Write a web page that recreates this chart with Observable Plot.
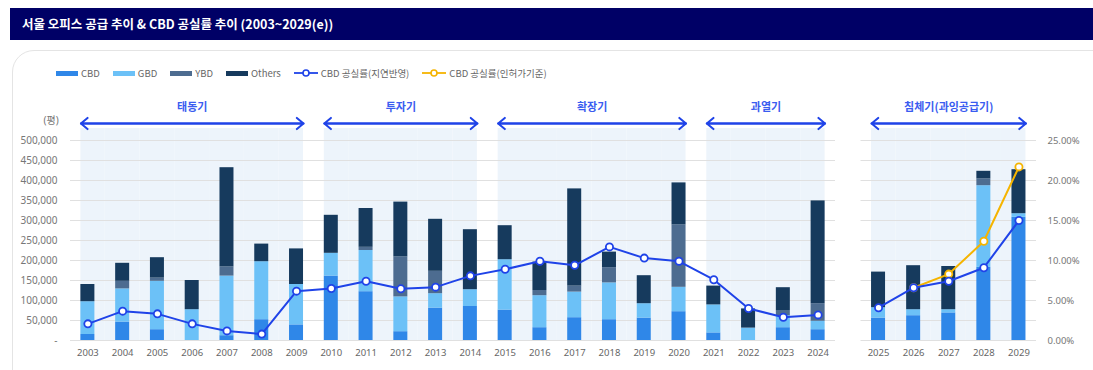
<!DOCTYPE html>
<html><head><meta charset="utf-8">
<script src="https://cdn.jsdelivr.net/npm/d3@7"></script>
<script src="https://cdn.jsdelivr.net/npm/@observablehq/plot@0.6"></script>
<style>
body{margin:0;width:1093px;height:370px;position:relative;background:#fff;font-family:"Noto Sans","Noto Sans CJK KR",sans-serif;overflow:hidden}
#title{position:absolute;left:10px;top:8px;width:1083px;height:32px;background:#000066;color:#fff;font-size:12.5px;font-weight:bold;line-height:32px;padding-left:12px;box-sizing:border-box;font-family:"Noto Sans CJK KR",sans-serif}
#card{position:absolute;left:12px;top:50px;width:1110px;height:350px;border:1px solid #e4e4e4;border-radius:22px}
#legend{position:absolute;left:56px;top:66px;height:14px;display:flex;align-items:center;gap:13px;font-size:9.5px;color:#666;font-family:"Noto Sans CJK KR",sans-serif}
#legend .it{display:flex;align-items:center;gap:3px}
#legend .sw{width:22px;height:5px;display:inline-block}
#left{position:absolute;left:0;top:95px}
#right{position:absolute;left:848px;top:95px}
</style></head>
<body>
<div id="title">서울 오피스 공급 추이 &amp; CBD 공실률 추이 (2003~2029(e))</div>
<div id="card"></div>
<div id="legend"></div>
<div id="left"></div>
<div id="right"></div>
<script>
const years = ["2003","2004","2005","2006","2007","2008","2009","2010","2011","2012","2013","2014","2015","2016","2017","2018","2019","2020","2021","2022","2023","2024","2025","2026","2027","2028","2029"];
const types = ["CBD","GBD","YBD","Others"];
const cbd    = [15000,46000,27000,0,12000,52000,39000,161000,122000,22000,81000,85000,76000,32000,57000,52000,56000,72000,19000,0,32000,27000,56000,62000,69000,183000,308000];
const gbd    = [82000,83000,121000,77000,149000,145000,101000,57000,103000,87000,36000,42000,126000,80000,64000,92000,36000,61000,70000,31000,30000,21000,26000,15000,8000,204000,9000];
const ybd    = [0,19000,8000,0,23000,0,0,0,8000,100000,56000,0,0,13000,15000,38000,0,156000,0,0,13000,44000,0,0,0,17000,0];
const others = [43000,45000,51000,73000,248000,44000,89000,95000,97000,137000,130000,150000,85000,71000,243000,39000,70000,105000,47000,48000,57000,257000,89000,110000,108000,19000,110000];
const vacancyDelayed = [2.08,3.67,3.33,2.08,1.2,0.8,6.17,6.5,7.4,6.46,6.67,8.08,8.9,9.9,9.4,11.7,10.3,9.9,7.6,4.0,2.9,3.2,4.1,6.6,7.4,9.1,15.0];
const vacancyPermit  = [null,null,null,null,null,null,null,null,null,null,null,null,null,null,null,null,null,null,null,null,null,null,null,6.6,8.3,12.4,21.7];
const phaseNames = ["태동기","투자기","확장기","과열기","침체기(과잉공급기)"];
const phaseFrom  = ["2003","2010","2015","2021","2025"];
const phaseTo    = ["2009","2014","2020","2024","2029"];
const leftTicks  = [0,50000,100000,150000,200000,250000,300000,350000,400000,450000,500000];
const rightTicks = [0,5,10,15,20,25];
const legendLabels = ["CBD","GBD","YBD","Others","CBD 공실률(지연반영)","CBD 공실률(인허가기준)"];

const colors = ["#2f87e8","#6cc1f7","#4d6c90","#163a5d"];
const blue = "#1f43e8", yellow = "#f5b400", phaseBlue = "#3a5cf0", bgFill = "#edf4fb";
const series = [cbd, gbd, ybd, others];
const PCT = 20000; // 25% <-> 500,000
const fmtLeft = d => d === 0 ? "-" : d3.format(",")(d);

// legend
const lg = document.getElementById("legend");
types.forEach((t,k) => {
  lg.insertAdjacentHTML("beforeend", `<span class="it"><span class="sw" style="background:${colors[k]}"></span>${legendLabels[k]}</span>`);
});
[[blue, legendLabels[4]], [yellow, legendLabels[5]]].forEach(([c, l]) => {
  lg.insertAdjacentHTML("beforeend", `<span class="it"><svg width="24" height="10"><line x1="0" x2="24" y1="5" y2="5" stroke="${c}" stroke-width="1.8"/><circle cx="12" cy="5" r="3" fill="#fff" stroke="${c}" stroke-width="1.6"/></svg>${l}</span>`);
});

function panel(sub, o) {
  const idx = years.map((y,i)=>i).filter(i => sub.includes(years[i]));
  const rows = [];
  idx.forEach(i => types.forEach((t,k) => rows.push({year: years[i], type: t, value: series[k][i]})));
  const vac = idx.map(i => ({year: years[i], v: vacancyDelayed[i]}));
  const vp = idx.filter(i => vacancyPermit[i] != null).map(i => ({year: years[i], v: vacancyPermit[i]}));
  const step = (o.width - o.marginLeft - o.marginRight) / sub.length;
  const INS = (step - 14) / 2;
  const ph = phaseNames.map((n,k) => ({name: n, from: phaseFrom[k], to: phaseTo[k]})).filter(p => sub.includes(p.from));
  const bg = [];
  ph.forEach(p => {
    const a = sub.indexOf(p.from), b = sub.indexOf(p.to);
    for (let j = a; j <= b; j++) bg.push({year: sub[j], pos: j === a ? "first" : j === b ? "last" : "mid"});
  });
  const bgMark = (pos, insL, insR) => Plot.barY(bg.filter(d => d.pos === pos), {x: "year", y1: 0, y2: 500000, fill: bgFill, insetLeft: insL, insetRight: insR, insetTop: -12});
  const labelMarks = ph.map(p => {
    const a = sub.indexOf(p.from), b = sub.indexOf(p.to), n = b - a + 1;
    const mid = sub[a + Math.floor((n - 1) / 2)];
    return Plot.text([p], {x: () => mid, y: () => 500000, text: "name", dx: ((n - 1) % 2) * step / 2, dy: -33, fill: phaseBlue, fontWeight: "bold", fontSize: 11, fontFamily: "'Noto Sans CJK KR',sans-serif"});
  });
  const marks = [
    bgMark("first", INS, 0), bgMark("mid", 0, 0), bgMark("last", 0, INS),
    Plot.ruleY(leftTicks, {stroke: "#e0e0e0"}),
    Plot.barY(rows, {x: "year", y: "value", fill: "type", order: types, insetLeft: INS, insetRight: INS}),
    Plot.line(vp, {x: "year", y: d => d.v * PCT, stroke: yellow, strokeWidth: 2}),
    Plot.dot(vp, {x: "year", y: d => d.v * PCT, r: 3.6, fill: "#fff", stroke: yellow, strokeWidth: 1.8}),
    Plot.line(vac, {x: "year", y: d => d.v * PCT, stroke: blue, strokeWidth: 2}),
    Plot.dot(vac, {x: "year", y: d => d.v * PCT, r: 3.6, fill: "#fff", stroke: blue, strokeWidth: 1.8}),
    Plot.arrow(ph, {x1: "from", x2: "to", y: () => 500000, dy: -17, stroke: blue, strokeWidth: 2, headLength: 6.5, headAngle: 80, insetStart: -(step/2 - INS), insetEnd: -(step/2 - INS)}),
    Plot.arrow(ph, {x1: "to", x2: "from", y: () => 500000, dy: -17, stroke: blue, strokeWidth: 2, headLength: 6.5, headAngle: 80, insetStart: -(step/2 - INS), insetEnd: -(step/2 - INS)}),
    ...labelMarks,
    Plot.axisX({tickSize: 0, tickPadding: 9, fontSize: 9.5, fill: "#666", label: null})
  ];
  if (o.side === "left") {
    marks.push(Plot.axisY({ticks: leftTicks, tickFormat: fmtLeft, tickSize: 0, tickPadding: 13, fontSize: 10, fill: "#777", label: null}));
    marks.push(Plot.text(["(평)"], {frameAnchor: "top-left", text: d => d, dx: -27, dy: -24, fontSize: 10, fill: "#777"}));
  } else {
    marks.push(Plot.axisY({anchor: "right", ticks: rightTicks.map(p => p * PCT), tickFormat: d => (d / PCT).toFixed(2) + "%", tickSize: 0, tickPadding: 11, fontSize: 9.5, fill: "#777", label: null}));
  }
  return Plot.plot({
    width: o.width, height: 270, marginTop: 45, marginBottom: 25, marginLeft: o.marginLeft, marginRight: o.marginRight,
    x: {domain: sub, padding: 0, round: false},
    y: {domain: [0, 500000]},
    color: {domain: types, range: colors},
    style: {fontFamily: "'Noto Sans','Noto Sans CJK KR',sans-serif", fontSize: "10px", background: "transparent", overflow: "visible"},
    marks
  });
}

document.getElementById("left").append(panel(years.slice(0, 22), {width: 848, marginLeft: 70, marginRight: 13, side: "left"}));
document.getElementById("right").append(panel(years.slice(22), {width: 245, marginLeft: 12.5, marginRight: 57, side: "right"}));
</script>
</body></html>
